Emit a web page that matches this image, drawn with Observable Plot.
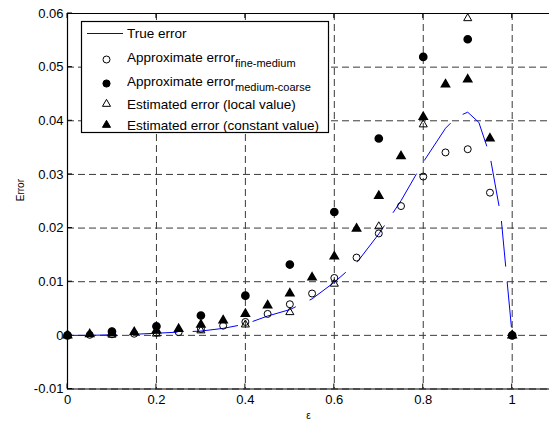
<!DOCTYPE html>
<html><head><meta charset="utf-8">
<script src="https://cdn.jsdelivr.net/npm/d3@7"></script>
<script src="https://cdn.jsdelivr.net/npm/@observablehq/plot@0.6"></script>
<style>body{margin:0;background:#fff;} svg{display:block}</style>
</head><body><div id="chart"></div>
<script>
// ---- data ----
const trueX = [0,0.05,0.1,0.15,0.2,0.25,0.3,0.35,0.4,0.45,0.5,0.55,0.6,0.65,0.7,0.75,0.8,0.85,0.875,0.9,0.925,0.95,0.975,1.0];
const trueY = [0,0,0.0001,0.0002,0.0004,0.0006,0.0008,0.0013,0.0021,0.0036,0.0048,0.0068,0.0099,0.0135,0.0189,0.0251,0.0323,0.0386,0.0407,0.0416,0.0397,0.0335,0.022,0];

const epsFine = [0,0.05,0.1,0.15,0.2,0.25,0.3,0.35,0.4,0.45,0.5,0.55,0.6,0.65,0.7,0.75,0.8,0.85,0.9,0.95,1.0];
const fineMedium = [0,0.0001,0.0002,0.0003,0.0005,0.0006,0.0012,0.0018,0.0025,0.004,0.0058,0.0078,0.0107,0.0145,0.019,0.0241,0.0296,0.0341,0.0347,0.0266,0];
const constantEst = [0,0.0002,0.0004,0.0006,0.0009,0.0012,0.002,0.0028,0.004,0.0056,0.0078,0.0108,0.0147,0.0199,0.026,0.0334,0.0407,0.0468,0.0477,0.0367,0];

const epsCoarse = [0,0.1,0.2,0.3,0.4,0.5,0.6,0.7,0.8,0.9,1.0];
const mediumCoarse = [0,0.0007,0.0017,0.0037,0.0074,0.0132,0.023,0.0367,0.0519,0.0552,0];
const localEst = [0,0.0001,0.0003,0.0009,0.002,0.0043,0.0096,0.0203,0.0393,0.0591,0];

const xTicks = [0,0.2,0.4,0.6,0.8,1];
const xTickLabels = ["0","0.2","0.4","0.6","0.8","1"];
const yTicks = [-0.01,0,0.01,0.02,0.03,0.04,0.05,0.06];
const yTickLabels = ["-0.01","0","0.01","0.02","0.03","0.04","0.05","0.06"];

const legendLabels = [
  {main: "True error", sub: null},
  {main: "Approximate error", sub: "fine-medium"},
  {main: "Approximate error", sub: "medium-coarse"},
  {main: "Estimated error (local value)", sub: null},
  {main: "Estimated error (constant value)", sub: null}
];

// ---- tables ----
const trueData = trueX.map((x, i) => ({x, y: trueY[i]}));
const fineData = epsFine.map((x, i) => ({x, y: fineMedium[i]}));
const constData = epsFine.map((x, i) => ({x, y: constantEst[i]}));
const coarseData = epsCoarse.map((x, i) => ({x, y: mediumCoarse[i]}));
const localData = epsCoarse.map((x, i) => ({x, y: localEst[i]}));

const font = "'Liberation Sans', Arial, Helvetica, sans-serif";
const xFmt = d => xTickLabels[xTicks.indexOf(d)];
const yFmt = d => yTickLabels[yTicks.findIndex(t => Math.abs(t - d) < 1e-9)];
const gridStyle = {stroke: "#3a3a3a", strokeOpacity: 1, strokeWidth: 1, strokeDasharray: "7,4"};
const triR = 3.0;

const plot = Plot.plot({
  width: 549, height: 423,
  marginLeft: 67, marginRight: 0, marginTop: 13, marginBottom: 34.5,
  style: {fontFamily: font, fontSize: "13px", background: "white", color: "black"},
  x: {domain: [0, 1.0839]},
  y: {domain: [-0.01, 0.06]},
  marks: [
    Plot.gridX(xTicks, gridStyle),
    Plot.gridY(yTicks, gridStyle),
    Plot.ruleX([0], {stroke: "black", strokeWidth: 1.2}),
    Plot.ruleY([-0.01, 0.06], {stroke: "black", strokeWidth: 1.2}),
    Plot.axisX(xTicks, {tickSize: 0, tickPadding: 6, tickFormat: xFmt, label: null, fontSize: 13}),
    Plot.axisY(yTicks, {tickSize: 0, tickPadding: 4, tickFormat: yFmt, label: null, fontSize: 13}),
    Plot.line(trueData, {x: "x", y: "y", stroke: "#0000ff", strokeWidth: 1, strokeDasharray: "45,16", strokeDashoffset: 57.4}),
    Plot.dot(fineData, {x: "x", y: "y", symbol: "circle", r: 3.5, stroke: "black", fill: "none", strokeWidth: 1}),
    Plot.dot(coarseData, {x: "x", y: "y", symbol: "circle", r: 3.6, stroke: "black", fill: "black"}),
    Plot.dot(localData, {x: "x", y: "y", symbol: "triangle", r: triR, stroke: "black", fill: "none", strokeWidth: 1}),
    Plot.dot(constData, {x: "x", y: "y", symbol: "triangle", r: triR, stroke: "black", fill: "black"}),
    Plot.text(["ε"], {frameAnchor: "bottom", dy: 30, fontSize: 10}),
    Plot.text(["Error"], {frameAnchor: "left", dx: -47, rotate: -90, fontSize: 10})
  ]
});

// inward ticks, placed with the plot's own scales
const sx = plot.scale("x"), sy = plot.scale("y");
const svg = d3.select(plot);
const tg = svg.append("g").attr("stroke", "black").attr("stroke-width", 1);
const yb = sy.apply(-0.01), yt = sy.apply(0.06), xl = sx.apply(0);
for (const t of xTicks) {
  const px = sx.apply(t);
  tg.append("line").attr("x1", px).attr("x2", px).attr("y1", yb).attr("y2", yb - 5);
  tg.append("line").attr("x1", px).attr("x2", px).attr("y1", yt).attr("y2", yt + 5);
}
for (const t of yTicks) {
  const py = sy.apply(t);
  tg.append("line").attr("x1", xl).attr("x2", xl + 5).attr("y1", py).attr("y2", py);
}

// legend
const lg = svg.append("g").attr("font-family", font).attr("text-anchor", "start");
lg.append("rect").attr("x", 81.5).attr("y", 21.5).attr("width", 247).attr("height", 111)
  .attr("fill", "white").attr("stroke", "black").attr("stroke-width", 1.2);
const rowY = [33.5, 57.5, 81.5, 104, 125];
const mx = 106.5, tx = 127;
lg.append("line").attr("x1", 87).attr("x2", 123).attr("y1", rowY[0]).attr("y2", rowY[0]).attr("stroke", "#0000ff");
const sym = d3.symbol();
lg.append("path").attr("d", sym.type(d3.symbolCircle).size(Math.PI*3.5*3.5)()).attr("transform", `translate(${mx},${rowY[1]+2})`).attr("fill", "none").attr("stroke", "black");
lg.append("path").attr("d", sym.type(d3.symbolCircle).size(Math.PI*3.6*3.6)()).attr("transform", `translate(${mx},${rowY[2]+2})`).attr("fill", "black").attr("stroke", "black");
lg.append("path").attr("d", sym.type(d3.symbolTriangle).size(Math.PI*triR*triR)()).attr("transform", `translate(${mx},${rowY[3]})`).attr("fill", "none").attr("stroke", "black");
lg.append("path").attr("d", sym.type(d3.symbolTriangle).size(Math.PI*triR*triR)()).attr("transform", `translate(${mx},${rowY[4]})`).attr("fill", "black").attr("stroke", "black");
legendLabels.forEach((l, i) => {
  const t = lg.append("text").attr("x", tx).attr("y", rowY[i]).attr("dy", "0.35em").attr("font-size", 13.5).attr("text-anchor", "start");
  t.append("tspan").text(l.main);
  if (l.sub) t.append("tspan").attr("dy", 5).attr("font-size", 11).text(l.sub);
});

document.getElementById("chart").appendChild(plot);
</script>
</body></html>
